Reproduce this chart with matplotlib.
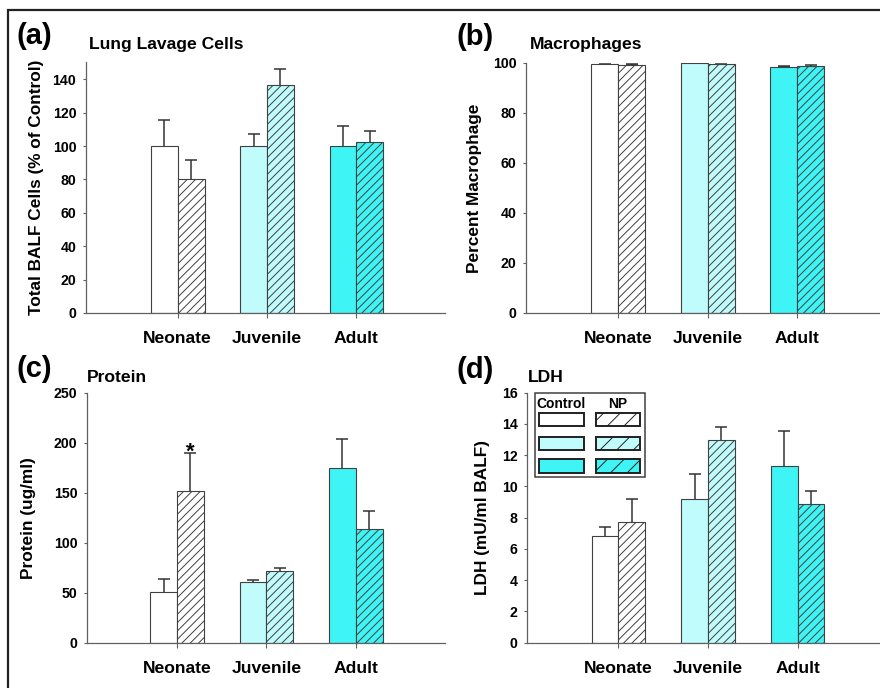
import matplotlib
matplotlib.use("Agg")
import matplotlib.pyplot as plt
from matplotlib.patches import Rectangle
import numpy as np

plt.rcParams['font.family'] = ['Liberation Sans', 'DejaVu Sans']
plt.rcParams['font.weight'] = 'bold'
plt.rcParams['hatch.color'] = '#505050'
plt.rcParams['hatch.linewidth'] = 0.7

groups = ["Neonate", "Juvenile", "Adult"]
colors = ["#ffffff", "#c0fcfc", "#3ef4f4"]

# (a) Lung lavage cells, % of control
cells_ctrl = [100, 100, 100]
cells_ctrl_err = [15.6, 7.4, 12.2]
cells_np = [80.0, 136.7, 102.4]
cells_np_err = [11.4, 9.4, 6.6]

# (b) Percent macrophage
mac_ctrl = [99.4, 99.7, 98.4]
mac_ctrl_err = [0.2, 0.1, 0.2]
mac_np = [99.1, 99.4, 98.7]
mac_np_err = [0.2, 0.2, 0.3]

# (c) Protein (ug/ml)
prot_ctrl = [51, 60.4, 174.7]
prot_ctrl_err = [12.7, 2.6, 29.3]
prot_np = [152, 71.4, 113.4]
prot_np_err = [37.7, 3.3, 18.0]

# (d) LDH (mU/ml BALF)
ldh_ctrl = [6.81, 9.22, 11.29]
ldh_ctrl_err = [0.58, 1.58, 2.24]
ldh_np = [7.72, 12.99, 8.88]
ldh_np_err = [1.5, 0.83, 0.83]

W, H = 880, 688
fig = plt.figure(figsize=(W / 100, H / 100), dpi=100)

# outer frame
fig.patches.append(Rectangle((8 / W, -0.05), 1.2, 1 - 10 / H + 0.05, transform=fig.transFigure,
                             fill=False, edgecolor='#222222', linewidth=1.6, zorder=0))


def make_ax(left, right, top, bottom):
    return fig.add_axes([left / W, 1 - bottom / H, (right - left) / W, (bottom - top) / H])


def panel(ax, ctrl, ctrl_err, npv, np_err, ylim, yticks, ylabel, title, letter,
          xlim, letter_xy, title_xy, ylabel_x):
    x = np.arange(1, len(groups) + 1)
    bw = 0.3
    for i in range(len(groups)):
        ax.bar(x[i] - bw / 2, ctrl[i], bw, color=colors[i], edgecolor='#404040', linewidth=0.8, zorder=2)
        ax.bar(x[i] + bw / 2, npv[i], bw, color=colors[i], edgecolor='#404040', linewidth=0.8,
               hatch='////', zorder=2)
    # symmetric error bars placed behind the bars so only the upper half shows
    ax.errorbar(x - bw / 2, ctrl, yerr=ctrl_err, fmt='none',
                ecolor='#333333', elinewidth=1.1, capsize=4.4, capthick=1.1, zorder=1)
    ax.errorbar(x + bw / 2, npv, yerr=np_err, fmt='none',
                ecolor='#333333', elinewidth=1.1, capsize=4.4, capthick=1.1, zorder=1)
    ax.set_xlim(*xlim)
    ax.set_ylim(*ylim)
    ax.set_yticks(yticks)
    ax.set_xticks(x)
    ax.set_xticklabels(groups, fontsize=12.6, fontweight='bold')
    for s in ['top', 'right']:
        ax.spines[s].set_visible(False)
    for s in ['left', 'bottom']:
        ax.spines[s].set_color('#606060')
        ax.spines[s].set_linewidth(0.9)
        ax.spines[s].set_zorder(3)
    ax.tick_params(axis='y', direction='out', length=2.5, width=0.8, color='#606060',
                   labelsize=10.2, pad=4.5)
    ax.tick_params(axis='x', direction='out', length=3.4, width=0.8, color='#606060', pad=9.5)
    for lab in ax.get_yticklabels():
        lab.set_fontweight('bold')
    ax.patch.set_visible(False)
    fig.text(ylabel_x / W, 0.5 * (ax.get_position().y0 + ax.get_position().y1), ylabel,
             rotation=90, ha='center', va='center', fontsize=12.4, fontweight='bold')
    fig.text(title_xy[0] / W, 1 - title_xy[1] / H, title, ha='left', va='center',
             fontsize=12.6, fontweight='bold')
    fig.text(letter_xy[0] / W, 1 - letter_xy[1] / H, letter, ha='left', va='center',
             fontsize=21, fontweight='bold')


axa = make_ax(86, 445, 62.5, 313)
panel(axa, cells_ctrl, cells_ctrl_err, cells_np, cells_np_err, (0, 150), range(0, 141, 20),
      "Total BALF Cells (% of Control)", "Lung Lavage Cells", "(a)",
      (-0.027, 3.993), (16, 36), (88.5, 44), 37)

axb = make_ax(526, 880, 62.7, 313)
panel(axb, mac_ctrl, mac_ctrl_err, mac_np, mac_np_err, (0, 100), range(0, 101, 20),
      "Percent Macrophage", "Macrophages", "(b)",
      (-0.031, 3.924), (456, 37), (530, 44), 474)

axc = make_ax(87.3, 445, 392.7, 642.7)
panel(axc, prot_ctrl, prot_ctrl_err, prot_np, prot_np_err, (0, 250), range(0, 251, 50),
      "Protein (ug/ml)", "Protein", "(c)",
      (-0.002, 3.996), (16, 369), (87.3, 377.7), 28)
# significance marker
axc.text(1 + 0.15, prot_np[0] + prot_np_err[0] - 4.5, "*", ha='center', va='baseline',
         fontsize=16, fontweight='bold')

axd = make_ax(527.3, 880, 392.7, 642.7)
panel(axd, ldh_ctrl, ldh_ctrl_err, ldh_np, ldh_np_err, (0, 16), range(0, 17, 2),
      "LDH (mU/ml BALF)", "LDH", "(d)",
      (-0.017, 3.92), (456, 370), (528.3, 377.7), 482.5)

# legend (drawn in figure pixels)
def fr(x0, y0, x1, y1, **kw):
    return Rectangle((x0 / W, 1 - y1 / H), (x1 - x0) / W, (y1 - y0) / H,
                     transform=fig.transFigure, **kw)

fig.patches.append(fr(535, 393, 645, 477, fill=True, facecolor='white', edgecolor='#404040',
                      linewidth=1.1, zorder=5))
rows = [(413.3, 426), (436.7, 450), (459.3, 472.7)]
for (y0, y1), c in zip(rows, colors):
    fig.patches.append(fr(539.3, y0, 584, y1, facecolor=c, edgecolor='#202020', linewidth=1.4, zorder=6))
    fig.patches.append(fr(595.7, y0, 640, y1, facecolor=c, edgecolor='#202020', linewidth=1.4,
                          hatch='//', zorder=6))
fig.text(561 / W, 1 - 404 / H, "Control", ha='center', va='center', fontsize=10, fontweight='bold', zorder=7)
fig.text(618 / W, 1 - 404 / H, "NP", ha='center', va='center', fontsize=10, fontweight='bold', zorder=7)

fig.savefig("out.png", dpi=100)
